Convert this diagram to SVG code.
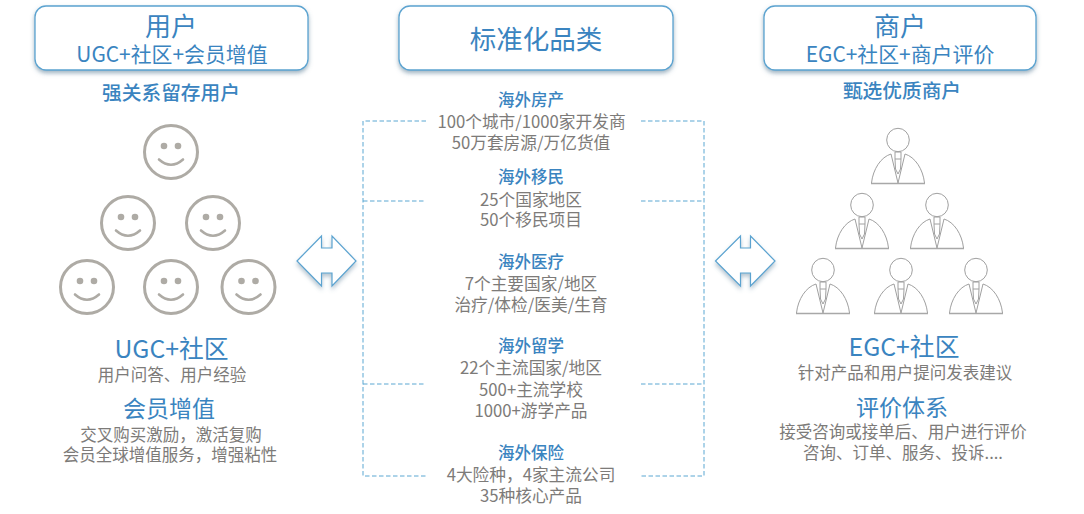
<svg xmlns="http://www.w3.org/2000/svg" width="1084" height="514" viewBox="0 0 1084 514">
<defs>
<filter id="sh" x="-10%" y="-20%" width="120%" height="150%"><feDropShadow dx="0" dy="2.5" stdDeviation="2" flood-color="#4f7690" flood-opacity=".55"/></filter>
<filter id="sa" x="-20%" y="-20%" width="140%" height="150%"><feDropShadow dx="0" dy="3" stdDeviation="2" flood-color="#5a7f98" flood-opacity=".45"/></filter>
<g id="smile"><circle r="26.5" fill="#fff" stroke="#aeaba5" stroke-width="3"/><circle cx="-7" cy="-6" r="3.3" fill="#aeaba5"/><circle cx="7" cy="-6" r="3.3" fill="#aeaba5"/><path d="M-12 7.5Q0 18 12 7.5" fill="none" stroke="#aeaba5" stroke-width="2.6" stroke-linecap="round"/></g>
<g id="man" fill="none" stroke="#a0a0a0" stroke-width="1"><ellipse cx="0" cy="-17" rx="11.3" ry="11.7"/><path d="M-27 26.500H27" stroke="#a8a8a8" stroke-width="1.6"/><path d="M-26.500 26C-25 12-17 0-7-3L0 26L7-3C17 0 25 12 26.500 26"/><path d="M-3-5H3V2L2.500 12L0 17L-2.500 12L-3 2Z"/><path d="M-3 2H3"/></g>
</defs>
<style>
text{font-family:"Noto Sans CJK SC","Liberation Sans",sans-serif;text-anchor:middle}
.b{fill:#3a84c0}
.m{font-weight:500}
.g{fill:#7d7b79}
.box{fill:#fff;stroke:#5ba3d0;stroke-width:1.3;filter:url(#sh)}
.dash{fill:none;stroke:#5ba7d2;stroke-width:1;stroke-dasharray:4.500 2.500}
.arr{fill:#fff;stroke:#5ba3d0;stroke-width:1.2;filter:url(#sa)}
.h1{font-size:26px}.h2{font-size:20.900px}.h3{font-size:19.700px}.h4{font-size:24.800px}.h5{font-size:23px}.d{font-size:16.500px}.c{font-size:16.700px}.l{font-size:16.500px}
</style>
<g id="connectors">
<path class="dash" d="M426 121H363V476H426M641 121H704V476H641M363 201H426M641 201H704M363 384H426M641 384H704"/>
</g>
<g id="node-user">
<rect class="box" x="35" y="6" width="273" height="64" rx="11"/>
<text class="b h1" x="171" y="36">用户</text>
<text class="b h2" x="172" y="62">UGC+社区+会员增值</text>
<text class="b m h3" x="171" y="100">强关系留存用户</text>
</g>
<g id="node-category">
<rect class="box" x="399" y="6" width="274" height="64" rx="11"/>
<text class="b" x="536" y="49" font-size="26.500">标准化品类</text>
</g>
<g id="node-merchant">
<rect class="box" x="764" y="6" width="272" height="64" rx="11"/>
<text class="b h1" x="900" y="36">商户</text>
<text class="b h2" x="900" y="62">EGC+社区+商户评价</text>
<text class="b m h3" x="902" y="98">甄选优质商户</text>
</g>
<g id="faces">
<use href="#smile" x="171" y="152"/><use href="#smile" x="128" y="223"/><use href="#smile" x="213" y="223"/>
<use href="#smile" x="87" y="287"/><use href="#smile" x="171" y="287"/><use href="#smile" x="248.500" y="287"/>
</g>
<g id="people">
<use href="#man" x="898" y="157"/><use href="#man" x="862" y="222"/><use href="#man" x="937" y="222"/>
<use href="#man" x="823" y="287"/><use href="#man" x="901" y="287"/><use href="#man" x="976" y="287"/>
</g>
<g id="arrow-left"><path class="arr" d="M297 261L321.500 236V248H332V236L356 261L332 286V273H321.500V286Z"/></g>
<g id="arrow-right"><path class="arr" d="M715.500 261L740.500 236V248H750.500V236L775 261L750.500 286V273H740.500V286Z"/></g>
<g id="node-user-detail">
<text class="b h4" x="171.500" y="358">UGC+社区</text>
<text class="g d" x="172" y="381">用户问答、用户经验</text>
<text class="b h5" x="169" y="417">会员增值</text>
<text class="g d" x="171" y="441">交叉购买激励，激活复购</text>
<text class="g d" x="170" y="461">会员全球增值服务，增强粘性</text>
</g>
<g id="node-merchant-detail">
<text class="b h4" x="904" y="356">EGC+社区</text>
<text class="g d" x="905" y="379">针对产品和用户提问发表建议</text>
<text class="b h5" x="902" y="416">评价体系</text>
<text class="g d" x="903" y="438">接受咨询或接单后、用户进行评价</text>
<text class="g d" x="903" y="459">咨询、订单、服务、投诉....</text>
</g>
<g id="cat-1"><text class="b m l" x="531" y="106">海外房产</text><text class="g c" x="531.500" y="127.500">100个城市/1000家开发商</text><text class="g c" x="531" y="149">50万套房源/万亿货值</text></g>
<g id="cat-2"><text class="b m l" x="531" y="183">海外移民</text><text class="g c" x="531" y="205.500">25个国家地区</text><text class="g c" x="531" y="226">50个移民项目</text></g>
<g id="cat-3"><text class="b m l" x="531" y="268">海外医疗</text><text class="g c" x="531" y="289.500">7个主要国家/地区</text><text class="g c" x="531" y="311">治疗/体检/医美/生育</text></g>
<g id="cat-4"><text class="b m l" x="531" y="352">海外留学</text><text class="g c" x="531" y="374">22个主流国家/地区</text><text class="g c" x="531" y="395.500">500+主流学校</text><text class="g c" x="531" y="417">1000+游学产品</text></g>
<g id="cat-5"><text class="b m l" x="531" y="459">海外保险</text><text class="g c" x="531" y="481">4大险种，4家主流公司</text><text class="g c" x="531" y="502">35种核心产品</text></g>
</svg>
